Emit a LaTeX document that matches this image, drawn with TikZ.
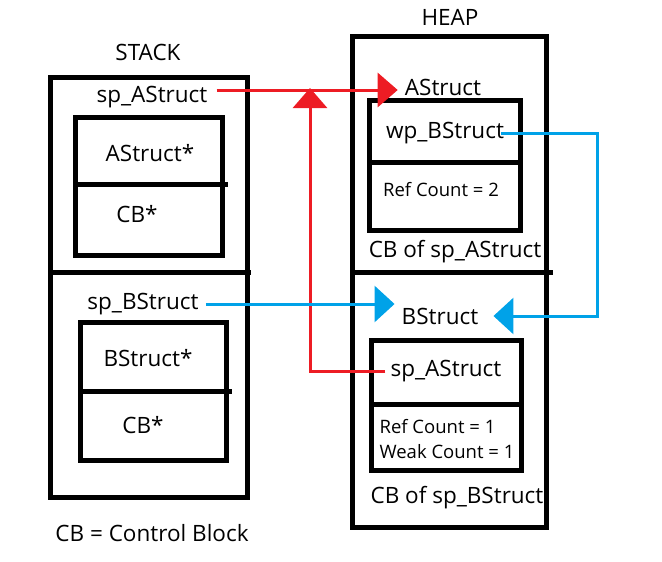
\documentclass[tikz,border=0pt]{standalone}
\usepackage{fontspec}
\setmainfont{Open Sans}
\usepackage{xcolor}
\usetikzlibrary{positioning, arrows.meta}
\definecolor{ptrred}{HTML}{ED1C24}
\definecolor{ptrblue}{HTML}{00A2E8}

\tikzset{
  box/.style={draw, line width=5pt},
  lbl/.style={inner sep=1pt, font=\fontsize{22.5}{26}\selectfont},
  small/.style={font=\fontsize{18.5}{25}\selectfont},
  redptr/.style={draw=ptrred, line width=3pt, -{Triangle[length=20pt, width=34pt]}},
  blueptr/.style={draw=ptrblue, line width=3pt, -{Triangle[length=20pt, width=36pt]}},
}

\begin{document}
\begin{tikzpicture}[x=1pt, y=-1pt]
    \useasboundingbox (0,0) rectangle (662,562);

    % stack side
    \node[lbl] (stack) at (148,52) {STACK};
    \draw[box] (50,77) rectangle (247,497);
    \draw[box] (50,272) -- (251,272);
    \node[lbl] (spA) at (152,97) {sp\_AStruct};
    \draw[box] (75,117) rectangle (222,255);
    \draw[box] (75,184) -- (228,184);
    \node[lbl] (ptrA) at (150,153) {AStruct*};
    \node[lbl] (cbA) at (137,214) {CB*};
    \node[lbl] (spB) at (143,304) {sp\_BStruct};
    \draw[box] (80,322) rectangle (226,460);
    \draw[box] (80,391) -- (232,391);
    \node[lbl] (ptrB) at (148,358) {BStruct*};
    \node[lbl] (cbB) at (143,425) {CB*};
    \node[lbl] (legend) at (152,533) {CB = Control Block};

    % heap side
    \node[lbl] (heap) at (450,17) {HEAP};
    \draw[box] (352,36) rectangle (546,527);
    \draw[box] (352,272) -- (553,272);
    \node[lbl] (hA) at (443,87) {AStruct};
    \draw[box] (369,100) rectangle (520,230);
    \draw[box] (369,162) -- (520,162);
    \node[lbl] (wpB) at (445,133) {wp\_BStruct};
    \node[lbl, small] (rcA) at (441,190) {Ref Count = 2};
    \node[lbl] (cbofA) at (455,252) {CB of sp\_AStruct};
    \node[lbl] (hB) at (440,316) {BStruct};
    \draw[box] (371,340) rectangle (521,470);
    \draw[box] (371,404) -- (521,404);
    \node[lbl] (hspA) at (446,371) {sp\_AStruct};
    \node[lbl, small, align=left] (rcB) at (447,439) {Ref Count = 1\\Weak Count = 1};
    \node[lbl] (cbofB) at (457,498) {CB of sp\_BStruct};

    % pointers
    \coordinate (upA) at (310,88);
    \coordinate (turnB) at (597,133);
    \draw[redptr] ([yshift=7pt]spA.east) ++(8,0) -- ([yshift=7pt, xshift=-6pt]spA.east -| hA.west);
    \draw[redptr] ([xshift=-4pt]hspA.west) -| (upA);
    \draw[blueptr] ([xshift=6pt]spB.east) -- ([xshift=-6pt]spB.east -| hB.west);
    \draw[blueptr] ([xshift=-4pt]wpB.east) -- (turnB) |- ([xshift=14pt]hB.east);
\end{tikzpicture}
\end{document}
